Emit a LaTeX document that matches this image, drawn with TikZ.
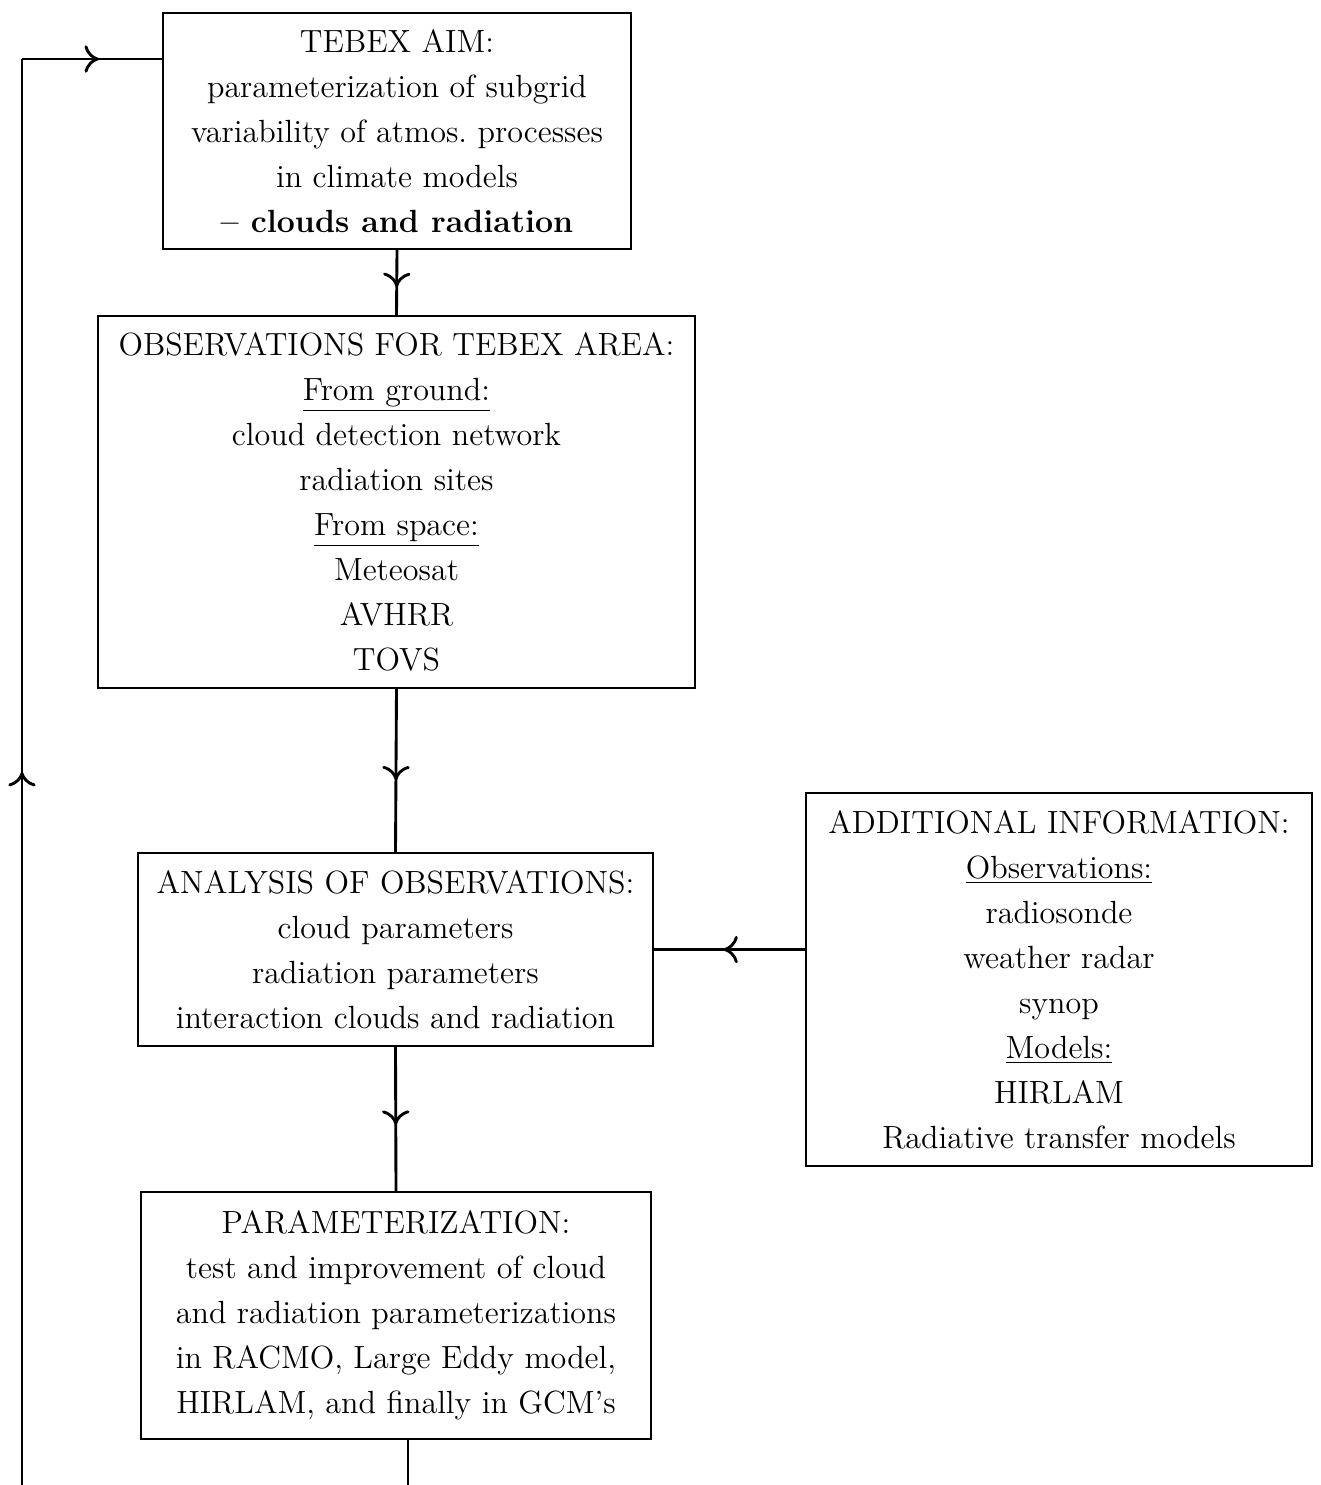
\documentclass[tikz,border=0pt]{standalone}
\usetikzlibrary{arrows.meta,decorations.markings}

\begin{document}
\begin{tikzpicture}[x=0.3833pt,y=-0.3833pt,
    font=\fontsize{12.3}{17.25}\selectfont,
    box/.style={draw,line width=0.9pt,align=center,inner sep=0pt},
    flow/.style={line width=1.1pt},
    midarrow/.style={flow,postaction={decorate},
      decoration={markings,mark=at position #1 with
        {\arrow{Computer Modern Rightarrow[width=10.5pt,length=5.5pt,line width=1.1pt]}}}}
   ]
    \useasboundingbox (0,0) rectangle (1321,1485);

    % boxes
    \node[box,minimum width=179.4pt,minimum height=90.5pt] (aim) at (397,131)
      {TEBEX AIM:\\ parameterization of subgrid\\ variability of atmos.\ processes\\
       in climate models\\ \textbf{-- clouds and radiation}};
    \node[box,minimum width=228.8pt,minimum height=142.6pt] (obs) at (396.5,502)
      {OBSERVATIONS FOR TEBEX AREA:\\ \underline{From ground:}\\ cloud detection network\\
       radiation sites\\ \underline{From space:}\\ Meteosat\\ AVHRR\\ TOVS};
    \node[box,minimum width=197.4pt,minimum height=74pt] (ana) at (395.5,949.5)
      {ANALYSIS OF OBSERVATIONS:\\ cloud parameters\\ radiation parameters\\
       interaction clouds and radiation};
    \node[box,minimum width=194pt,minimum height=143pt] (add) at (1059,979.5)
      {ADDITIONAL INFORMATION:\\ \underline{Observations:}\\ radiosonde\\ weather radar\\
       synop\\ \underline{Models:}\\ HIRLAM\\ Radiative transfer models};
    \node[box,minimum width=195.5pt,minimum height=94.7pt] (par) at (396,1315.5)
      {PARAMETERIZATION:\\ test and improvement of cloud\\ and radiation parameterizations\\
       in RACMO, Large Eddy model,\\ HIRLAM, and finally in GCM's};

    % feedback loop ends
    \coordinate (loopend) at (408,1485);
    \coordinate (loopstart) at (22,1485);
    \coordinate (corner) at (22,59);

    % connectors
    \draw[midarrow=0.57] (aim.south) -- (obs.north);
    \draw[midarrow=0.56] (obs.south) -- (ana.north);
    \draw[midarrow=0.54] (add.west |- ana.east) -- (ana.east);
    \draw[midarrow=0.54] (ana.south) -- (par.north);
    \draw[flow] (loopend |- par.south) -- (loopend);
    \draw[midarrow=0.5] (loopstart) -- (corner);
    \draw[midarrow=0.55] (corner) -- (corner -| aim.west);
\end{tikzpicture}
\end{document}
